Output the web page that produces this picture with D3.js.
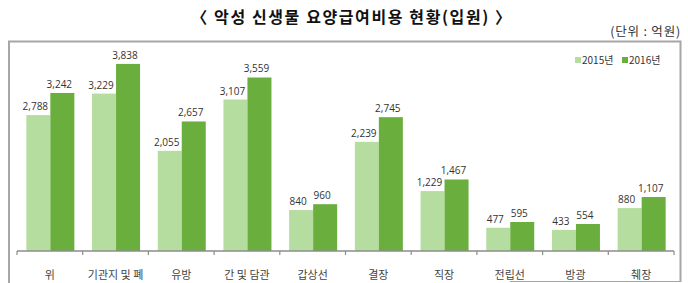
<!DOCTYPE html>
<html>
<head>
<meta charset="utf-8">
<script src="https://cdn.jsdelivr.net/npm/d3@7"></script>
<style>
  body { margin: 0; background: #fff; }
  svg text { font-family: "Noto Sans CJK KR", "Noto Sans", sans-serif; }
</style>
</head>
<body>
<svg id="chart"></svg>
<script>
// data (억원)
var categories = ["위", "기관지 및 폐", "유방", "간 및 담관", "갑상선", "결장", "직장", "전립선", "방광", "췌장"];
var series = ["2015년", "2016년"];
var values2015 = [2788, 3229, 2055, 3107, 840, 2239, 1229, 477, 433, 880];
var values2016 = [3242, 3838, 2657, 3559, 960, 2745, 1467, 595, 554, 1107];

var W = 688, H = 283;
var margin = {top: 56, right: 14, bottom: 32, left: 17},
    width = W - margin.left - margin.right,
    height = H - margin.top - margin.bottom;

var colors = d3.scaleOrdinal().domain(series).range(["#b5dd9f", "#6aae3d"]);

var svg = d3.select("#chart").attr("width", W).attr("height", H);

// frame
svg.append("path")
  .attr("d", "M9,283 V41.5 H680.5 V282")
  .attr("fill", "none").attr("stroke", "#a6a6a6").attr("stroke-width", 2);
svg.append("line")
  .attr("x1", 510).attr("x2", 681).attr("y1", 281.5).attr("y2", 281.5)
  .attr("stroke", "#a6a6a6").attr("stroke-width", 1.2);

// title
svg.append("text")
  .attr("x", 352).attr("y", 23)
  .attr("text-anchor", "middle")
  .style("font-size", "16px").style("font-weight", "bold").style("fill", "#111")
  .style("letter-spacing", "1.6px")
  .text("〈 악성 신생물 요양급여비용 현황(입원) 〉");

svg.append("text")
  .attr("x", 681).attr("y", 36)
  .attr("text-anchor", "end")
  .style("font-size", "12.5px").style("fill", "#333")
  .style("letter-spacing", "0.8px")
  .text("(단위 : 억원)");

var g = svg.append("g").attr("transform", "translate(" + margin.left + "," + margin.top + ")");

var xscale = d3.scaleBand().domain(categories).range([0, width]).paddingInner(0).paddingOuter(0);
var xinner = d3.scaleBand().domain(series).range([0, 48]);
var yscale = d3.scaleLinear().domain([0, 4000]).range([height, 0]);

var rows = categories.map(function(c, i) {
  return {cat: c, vals: [{s: series[0], v: values2015[i]}, {s: series[1], v: values2016[i]}]};
});

var group = g.selectAll(".category")
  .data(rows)
  .enter().append("g")
  .attr("class", "category")
  .attr("transform", function(d) { return "translate(" + (xscale(d.cat) + (xscale.bandwidth() - 48) / 2 + 0.5) + ",0)"; });

group.selectAll("rect")
  .data(function(d) { return d.vals; })
  .enter().append("rect")
  .attr("x", function(d) { return xinner(d.s); })
  .attr("width", xinner.bandwidth())
  .attr("y", function(d) { return yscale(d.v); })
  .attr("height", function(d) { return height - yscale(d.v); })
  .style("fill", function(d) { return colors(d.s); });

group.selectAll(".val")
  .data(function(d) { return d.vals; })
  .enter().append("text")
  .attr("class", "val")
  .attr("x", function(d) { return xinner(d.s) + xinner.bandwidth() / 2 - 3; })
  .attr("y", function(d) { return yscale(d.v) - 5; })
  .attr("text-anchor", "middle")
  .style("font-size", "10px").style("fill", "#333")
  .style("font-family", "'Open Sans', sans-serif")
  .text(function(d) { return d3.format(",")(d.v); });

// x axis
var xaxis = g.append("g")
  .attr("transform", "translate(0," + height + ")");
xaxis.append("line")
  .attr("x1", 0).attr("x2", width)
  .attr("stroke", "#8c8c8c").attr("stroke-width", 1.5);
xaxis.selectAll(".tick")
  .data(categories.concat([null]))
  .enter().append("line")
  .attr("x1", function(d) { return d === null ? width : xscale(d); })
  .attr("x2", function(d) { return d === null ? width : xscale(d); })
  .attr("y1", 0).attr("y2", 4)
  .attr("stroke", "#8c8c8c").attr("stroke-width", 1.2);
xaxis.selectAll(".lab")
  .data(categories)
  .enter().append("text")
  .attr("x", function(d) { return xscale(d) + xscale.bandwidth() / 2; })
  .attr("y", 28)
  .attr("text-anchor", "middle")
  .style("font-size", "11px").style("fill", "#444")
  .text(function(d) { return d; });

// legend
var legend = svg.selectAll(".legend")
  .data(series)
  .enter().append("g")
  .attr("class", "legend")
  .attr("transform", function(d, i) { return "translate(" + (575 + i * 47) + ",57)"; });
legend.append("rect")
  .attr("width", 6).attr("height", 6)
  .style("fill", colors);
legend.append("text")
  .attr("x", 7).attr("y", 7)
  .style("font-size", "10px").style("fill", "#333")
  .text(function(d) { return d; });
</script>
</body>
</html>
